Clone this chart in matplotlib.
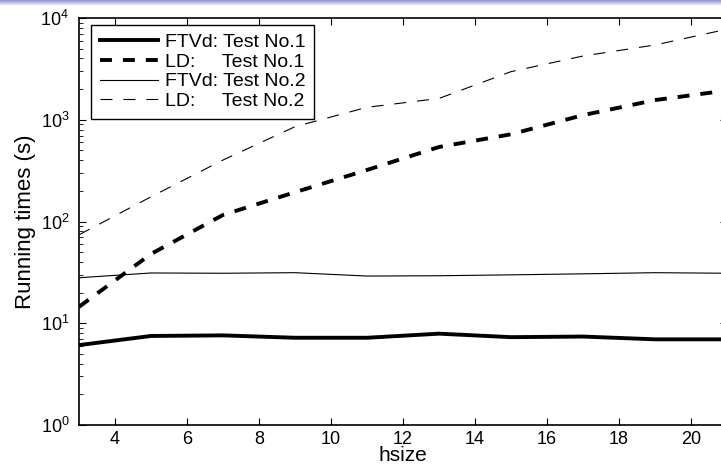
import numpy as np
import matplotlib
matplotlib.use('Agg')
import matplotlib.pyplot as plt

# dados
hsize = [3, 5, 7, 9, 11, 13, 15, 17, 19, 21]
ftvd_1 = [6.1, 7.5, 7.6, 7.2, 7.2, 7.9, 7.3, 7.4, 6.95, 6.95]
ld_1 = [14.5, 48, 116, 194, 321, 540, 720, 1110, 1560, 1940]
ftvd_2 = [28, 31.2, 31, 31.4, 29.1, 29.3, 29.9, 30.6, 31.4, 31]
ld_2 = [74, 175, 402, 855, 1325, 1620, 2970, 4230, 5430, 7760]

labels = ['FTVd: Test No.1', 'LD:     Test No.1', 'FTVd: Test No.2', 'LD:     Test No.2']

plt.rcParams['font.family'] = ['Liberation Sans', 'DejaVu Sans']
plt.rcParams['lines.scale_dashes'] = False

fig = plt.figure(figsize=(7.21, 4.68), dpi=100)

# faixa azul no topo (cabecalho do slide)
bar = fig.add_axes([0, 1 - 6 / 468, 1, 6 / 468])
grad = np.linspace(0, 1, 50).reshape(-1, 1)
top = np.array([0.55, 0.55, 0.82])
cols = top[None, :] * (1 - grad) + np.array([1, 1, 1])[None, :] * grad
bar.imshow(cols[:, None, :], aspect='auto', extent=[0, 1, 0, 1])
bar.axis('off')

ax = fig.add_axes([79 / 721, 1 - 425 / 468, 648 / 721, 407 / 468])
ax.plot(hsize, ftvd_1, color='k', lw=2.8, label=labels[0])
ax.plot(hsize, ld_1, color='k', lw=2.8, dashes=(8.6, 7.9), label=labels[1])
ax.plot(hsize, ftvd_2, color='k', lw=0.8, label=labels[2])
ax.plot(hsize, ld_2, color='k', lw=0.8, dashes=(8.6, 7.9), label=labels[3])

ax.set_yscale('log')
ax.set_xlim(3, 21)
ax.set_ylim(1, 1e4)
ax.set_xticks(range(4, 21, 2))
ax.tick_params(which='both', direction='in', top=True, right=True, labelsize=13)
ax.tick_params(which='major', length=5)
ax.tick_params(which='minor', length=3)
ax.tick_params(axis='y', which='major', pad=7)
ax.tick_params(axis='x', which='major', pad=4)
for s in ax.spines.values():
    s.set_linewidth(1.2)

ax.set_xlabel('hsize', fontsize=15, labelpad=-1)
ax.set_ylabel('Running times (s)', fontsize=16, labelpad=3)

leg = ax.legend(loc='upper left', bbox_to_anchor=(0.0185, 0.983), fontsize=14,
                handlelength=3.0, handletextpad=0.35, borderaxespad=0,
                fancybox=False, framealpha=1, labelspacing=0.1, borderpad=0.45)
leg.get_frame().set_edgecolor('k')
leg.get_frame().set_linewidth(1.0)

fig.savefig('out.png', dpi=100)
